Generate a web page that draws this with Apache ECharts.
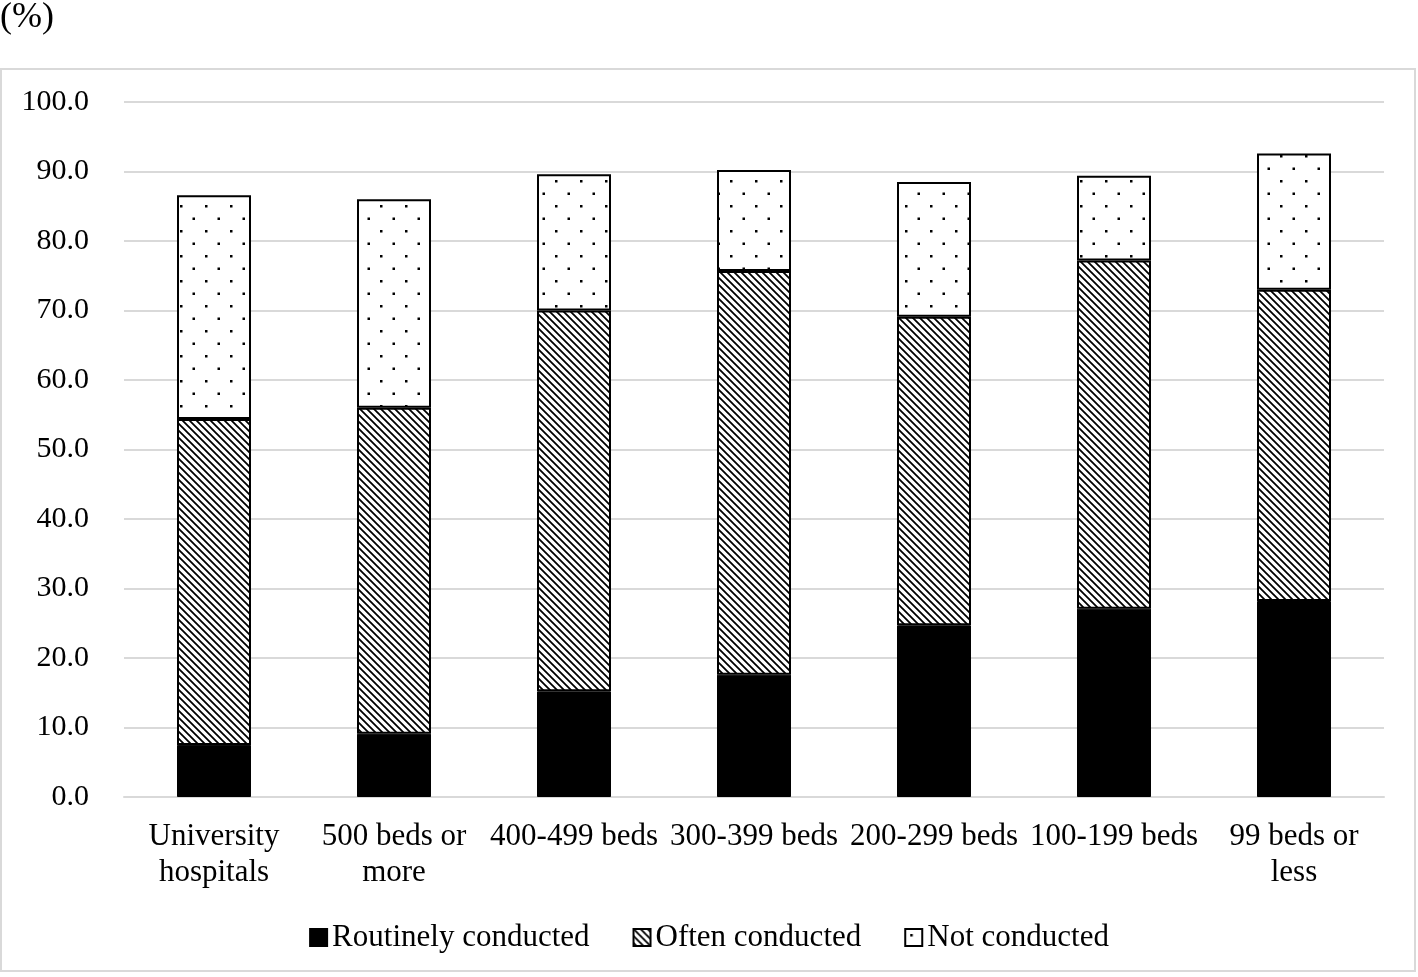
<!DOCTYPE html>
<html>
<head>
<meta charset="utf-8">
<script src="https://cdn.jsdelivr.net/npm/echarts@6/dist/echarts.min.js"></script>
<style>
html,body{margin:0;padding:0;background:#fff;}
#chart{width:1418px;height:977px;}
</style>
</head>
<body>
<div id="chart"></div>
<script>
const categories = ['University\nhospitals', '500 beds or\nmore', '400-499 beds', '300-399 beds', '200-299 beds', '100-199 beds', '99 beds or\nless'];
const routinely = [7.5, 9.1, 15.2, 17.6, 24.7, 27.1, 28.2];
const often = [46.9, 46.9, 54.8, 58.1, 44.4, 50.1, 44.8];
const notConducted = [32.2, 30.0, 19.6, 14.5, 19.4, 12.2, 19.6];
const seriesNames = ['Routinely conducted', 'Often conducted', 'Not conducted'];
const yTicks = [0, 10, 20, 30, 40, 50, 60, 70, 80, 90, 100];

function hatchPattern() {
  const s = 7;
  const c = document.createElement('canvas');
  c.width = s; c.height = s;
  const g = c.getContext('2d');
  g.fillStyle = '#fff'; g.fillRect(0, 0, s, s);
  g.strokeStyle = '#000'; g.lineWidth = 1.8;
  g.beginPath();
  for (const o of [-s, 0, s]) {
    g.moveTo(o - 1, -1); g.lineTo(o + s + 1, s + 1);
  }
  g.stroke();
  return c;
}
function dotPattern() {
  const c = document.createElement('canvas');
  c.width = 25; c.height = 25;
  const g = c.getContext('2d');
  g.fillStyle = '#fff'; g.fillRect(0, 0, 25, 25);
  g.fillStyle = '#000';
  g.fillRect(5, 5, 2.5, 2.5);
  g.fillRect(17.5, 17.5, 2.5, 2.5);
  return c;
}

const font = '"Liberation Serif", "Times New Roman", serif';
const chart = echarts.init(document.getElementById('chart'), null, {renderer: 'canvas'});
chart.setOption({
  animation: false,
  backgroundColor: '#fff',
  graphic: [
    {type: 'rect', shape: {x: 1, y: 69, width: 1414, height: 902}, style: {fill: 'none', stroke: '#d9d9d9', lineWidth: 2}},
    {type: 'text', left: 0, top: 0, style: {text: '(%)', font: '36px ' + font, fill: '#000'}}
  ],
  grid: {left: 124, right: 34, top: 102, bottom: 180, containLabel: false},
  legend: {
    data: seriesNames,
    top: 917,
    left: 'center',
    icon: 'rect',
    itemWidth: 17,
    itemHeight: 17,
    itemGap: 43,
    textStyle: {fontFamily: font, fontSize: 31, color: '#000'}
  },
  xAxis: {
    type: 'category',
    data: categories,
    axisLine: {show: true, lineStyle: {color: '#d9d9d9', width: 2}},
    axisTick: {show: false},
    axisLabel: {interval: 0, margin: 22, fontFamily: font, fontSize: 31, color: '#000', lineHeight: 36}
  },
  yAxis: {
    type: 'value',
    min: 0, max: 100, interval: 10,
    axisLine: {show: false},
    axisTick: {show: false},
    splitLine: {lineStyle: {color: '#d9d9d9', width: 2}},
    axisLabel: {margin: 35, fontFamily: font, fontSize: 30, color: '#000', formatter: v => v.toFixed(1)}
  },
  series: [
    {name: seriesNames[0], type: 'bar', stack: 'a', barWidth: 74, data: routinely,
     itemStyle: {color: '#000', borderColor: '#000', borderWidth: 1}},
    {name: seriesNames[1], type: 'bar', stack: 'a', barWidth: 74, data: often,
     itemStyle: {color: {image: hatchPattern(), repeat: 'repeat'}, borderColor: '#000', borderWidth: 2}},
    {name: seriesNames[2], type: 'bar', stack: 'a', barWidth: 74, data: notConducted,
     itemStyle: {color: {image: dotPattern(), repeat: 'repeat'}, borderColor: '#000', borderWidth: 2}}
  ]
});
</script>
</body>
</html>
